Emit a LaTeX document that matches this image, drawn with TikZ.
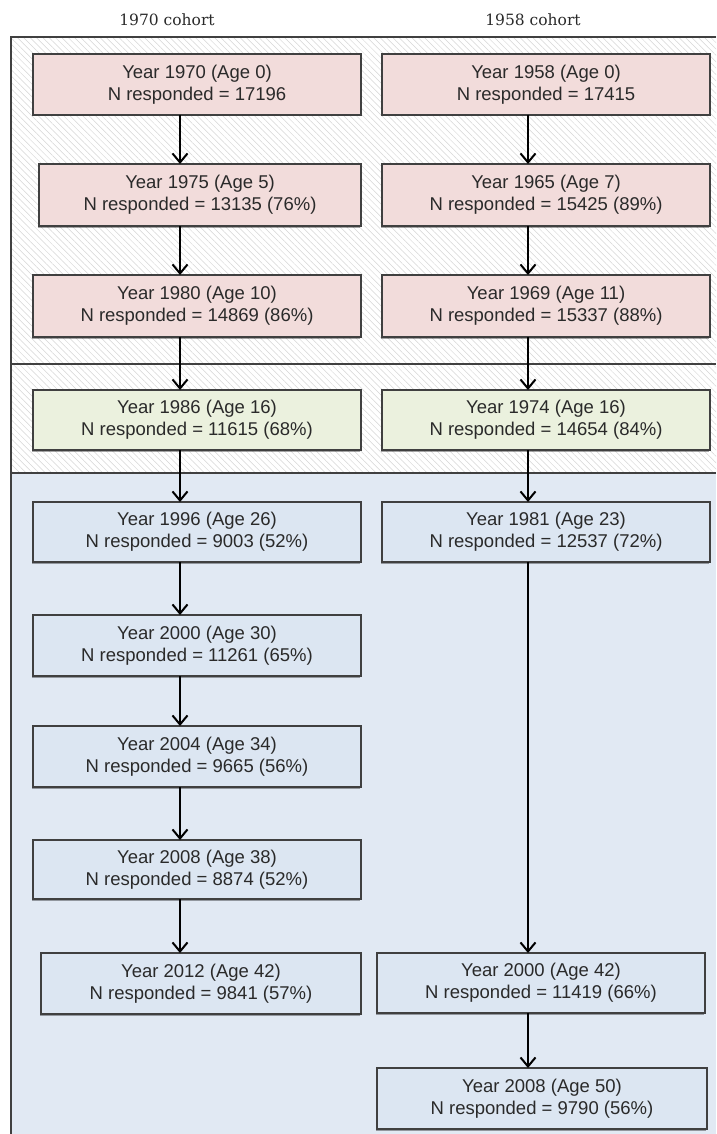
\documentclass[tikz,border=0pt]{standalone}
\usepackage{fontspec}
\newfontfamily\boxfont{Liberation Sans}
\newfontfamily\titlefont{DejaVu Serif}
\usetikzlibrary{arrows.meta,patterns.meta,shadows}
\definecolor{pinkfill}{HTML}{F2DCDB}
\definecolor{greenfill}{HTML}{EBF1DE}
\definecolor{bluefill}{HTML}{DCE6F2}
\definecolor{bluebg}{HTML}{E1E9F3}
\definecolor{bordercol}{HTML}{404040}
\definecolor{textcol}{HTML}{2A2A2A}
\definecolor{hatchcol}{HTML}{D6D6D6}
\tikzset{
  box/.style={draw=bordercol, line width=1.5pt, align=center, inner sep=0pt, outer sep=0pt,
    text=textcol, font=\boxfont\fontsize{18.5}{22}\selectfont,
    drop shadow={shadow xshift=-1.5pt, shadow yshift=-1.5pt, opacity=0.35, fill=black}},
  pinkbox/.style={box, fill=pinkfill},
  greenbox/.style={box, fill=greenfill},
  bluebox/.style={box, fill=bluefill},
  arr/.style={-{Straight Barb[length=9pt,width=15pt,line width=2pt]}, line width=1.5pt, draw=black},
  frameline/.style={draw=bordercol, line width=1.6pt},
  cohort/.style={text=textcol, font=\titlefont\fontsize{15.5}{18}\selectfont, inner sep=0pt}
}
\begin{document}
\begin{tikzpicture}[x=1pt,y=-1pt]
\useasboundingbox (0,0) rectangle (716,1134);
% backgrounds
\fill[white] (11,37) rectangle (716,473);
\fill[pattern={Lines[angle=-45,distance=4.5pt,line width=0.5pt]}, pattern color=hatchcol] (11,37) rectangle (716,473);
\fill[bluebg] (11,473) rectangle (716,1134);
% frame
\draw[frameline] (716,37) -- (11,37) -- (11,1134);
\draw[frameline] (11,364) -- (716,364);
\draw[frameline] (11,473) -- (716,473);
% titles
\node[cohort] (t1) at (167,20) {1970 cohort};
\node[cohort] (t2) at (533,20) {1958 cohort};
% column arrow positions
\coordinate (cL) at (180,0);
\coordinate (cR) at (528,0);
% left column
\node[pinkbox, minimum width=328pt, minimum height=61pt] (L1) at (197,84.5) {Year 1970 (Age 0)\\N responded = 17196};
\node[pinkbox, minimum width=322pt, minimum height=62pt] (L2) at (200,195) {Year 1975 (Age 5)\\N responded = 13135 (76\%)};
\node[pinkbox, minimum width=328pt, minimum height=62pt] (L3) at (197,306) {Year 1980 (Age 10)\\N responded = 14869 (86\%)};
\node[greenbox, minimum width=328pt, minimum height=60pt] (L4) at (197,420) {Year 1986 (Age 16)\\N responded = 11615 (68\%)};
\node[bluebox, minimum width=328pt, minimum height=60pt] (L5) at (197,532) {Year 1996 (Age 26)\\N responded = 9003 (52\%)};
\node[bluebox, minimum width=328pt, minimum height=61pt] (L6) at (197,645.5) {Year 2000 (Age 30)\\N responded = 11261 (65\%)};
\node[bluebox, minimum width=328pt, minimum height=61pt] (L7) at (197,756.5) {Year 2004 (Age 34)\\N responded = 9665 (56\%)};
\node[bluebox, minimum width=328pt, minimum height=59pt] (L8) at (197,869.5) {Year 2008 (Age 38)\\N responded = 8874 (52\%)};
\node[bluebox, minimum width=320pt, minimum height=61pt] (L9) at (201,983.5) {Year 2012 (Age 42)\\N responded = 9841 (57\%)};
% right column
\node[pinkbox, minimum width=328pt, minimum height=61pt] (R1) at (546,84.5) {Year 1958 (Age 0)\\N responded = 17415};
\node[pinkbox, minimum width=328pt, minimum height=62pt] (R2) at (546,195) {Year 1965 (Age 7)\\N responded = 15425 (89\%)};
\node[pinkbox, minimum width=328pt, minimum height=62pt] (R3) at (546,306) {Year 1969 (Age 11)\\N responded = 15337 (88\%)};
\node[greenbox, minimum width=328pt, minimum height=60pt] (R4) at (546,420) {Year 1974 (Age 16)\\N responded = 14654 (84\%)};
\node[bluebox, minimum width=328pt, minimum height=60pt] (R5) at (546,532) {Year 1981 (Age 23)\\N responded = 12537 (72\%)};
\node[bluebox, minimum width=328pt, minimum height=60pt] (R6) at (541,983) {Year 2000 (Age 42)\\N responded = 11419 (66\%)};
\node[bluebox, minimum width=330pt, minimum height=61pt] (R7) at (542,1098.5) {Year 2008 (Age 50)\\N responded = 9790 (56\%)};
% arrows left
\foreach \a/\b in {L1/L2,L2/L3,L3/L4,L4/L5,L5/L6,L6/L7,L7/L8,L8/L9}
  \draw[arr] (\a.south -| cL) -- (\b.north -| cL);
% arrows right
\foreach \a/\b in {R1/R2,R2/R3,R3/R4,R4/R5,R5/R6,R6/R7}
  \draw[arr] (\a.south -| cR) -- (\b.north -| cR);
\end{tikzpicture}
\end{document}
